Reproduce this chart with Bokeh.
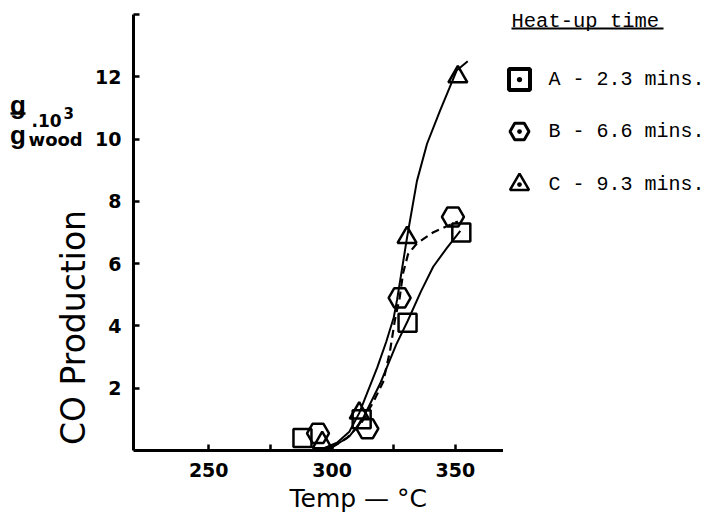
import math
from bokeh.plotting import figure
from bokeh.models import FixedTicker, Title
from bokeh.layouts import row
from bokeh.core.properties import value
from bokeh.embed import file_html
from bokeh.resources import INLINE

# ---- data ----
temp_a = [288.0, 312.0, 330.6, 352.4]
co_a = [0.40, 1.00, 4.10, 7.00]
temp_b = [294.3, 314.3, 327.4, 349.0]
co_b = [0.55, 0.70, 4.90, 7.50]
temp_c = [296.0, 311.0, 330.4, 351.0]
co_c = [0.25, 1.20, 6.84, 12.00]

curve_a_t = [296, 302, 307, 312, 319.5, 326, 330.6, 336, 341, 346.5, 352]
curve_a_v = [0.05, 0.2, 0.45, 0.95, 2.15, 3.4, 4.15, 5.1, 5.9, 6.5, 7.05]
curve_b_t = [300, 306, 312, 317, 320.7, 323.5, 325.5, 327.4, 328.8, 330.8, 334.4, 340.9, 346.5, 351]
curve_b_v = [0.1, 0.4, 0.9, 1.6, 2.2, 3.2, 4.2, 4.9, 5.7, 6.3, 6.65, 7.0, 7.2, 7.35]
curve_c_t = [296, 302, 307, 311, 313, 318.3, 322, 325, 326.4, 330.4, 334.4, 338.5, 343.7, 350.5, 355]
curve_c_v = [0.05, 0.25, 0.6, 1.2, 1.6, 2.66, 3.5, 4.27, 4.86, 6.84, 8.65, 9.85, 10.9, 12.2, 12.5]

x_ticks = [250, 275, 300, 325, 350]
x_tick_labels = {250: "250", 275: "", 300: "300", 325: "", 350: "350"}
y_ticks = [2, 4, 6, 8, 10, 12, 14]
y_tick_labels = {2: "2", 4: "4", 6: "6", 8: "8", 10: "10", 12: "12", 14: ""}

x_title = "Temp — °C"
y_title = "CO Production"
legend_title = "Heat-up time"
legend_labels = ["A - 2.3 mins.", "B - 6.6 mins.", "C - 9.3 mins."]
legend_markers = ["square_dot", "hex_dot", "triangle_dot"]

X0, X1 = 219.5, 369.5
Y0, Y_AXIS_TOP = 0.0, 14.0

H = 519              # common height
WL = 92              # left text panel
FL_IMG, FR_IMG = 132, 503
AXTOP_IMG, FB_IMG = 14, 450
BL = FL_IMG - WL     # left border of the main figure
FW = FR_IMG - FL_IMG
WQ = 208             # legend panel
# frame spans image rows 0..FB_IMG; the y axis itself stops at 14
Y1 = Y_AXIS_TOP * FB_IMG / (FB_IMG - AXTOP_IMG)

# ---- main chart ----
p = figure(width=BL + FW, height=H, x_range=(X0, X1), y_range=(Y0, Y1),
           output_backend="svg", toolbar_location=None,
           min_border_left=BL, min_border_right=0, min_border_top=0,
           min_border_bottom=H - FB_IMG)
p.outline_line_color = None
p.grid.visible = False

for ax in (p.xaxis[0], p.yaxis[0]):
    ax.axis_line_width = 3
    ax.axis_line_color = "black"
    ax.major_tick_line_width = 2.5
    ax.major_tick_in = 6
    ax.major_tick_out = 0
    ax.minor_tick_line_color = None
    ax.major_label_text_font = "DejaVu Sans"
    ax.major_label_text_font_style = "bold"
    ax.major_label_text_font_size = "19px"
    ax.major_label_text_color = "black"

p.xaxis.ticker = FixedTicker(ticks=x_ticks)
p.xaxis.major_label_overrides = x_tick_labels
p.xaxis.major_label_standoff = 12
p.yaxis.ticker = FixedTicker(ticks=y_ticks)
p.yaxis.major_label_overrides = y_tick_labels
p.yaxis.major_label_standoff = 12
p.yaxis.bounds = (Y0, Y_AXIS_TOP)

p.add_layout(Title(text=x_title, align="left", offset=156, text_font="DejaVu Sans",
                   text_font_size="25px", text_font_style="normal", text_color="black",
                   standoff=4), "below")

# curves
p.line(curve_a_t, curve_a_v, line_color="black", line_width=2)
p.line(curve_c_t, curve_c_v, line_color="black", line_width=2)
p.line(curve_b_t, curve_b_v, line_color="black", line_width=2.2, line_dash="8 5")

# markers
p.scatter(temp_a, co_a, marker="square", size=18, fill_color=None, line_color="black", line_width=2.5)
p.scatter(temp_b, co_b, marker="hex", size=22, fill_color=None, line_color="black", line_width=2.5)
p.scatter(temp_c, co_c, marker="triangle", size=19, fill_color=None, line_color="black", line_width=2.5)

# ---- left panel: axis title and units ----
L = figure(width=WL, height=H, x_range=(0, WL), y_range=(H - FB_IMG, H),
           output_backend="svg", toolbar_location=None, min_border=0)
L.axis.visible = False
L.grid.visible = False
L.outline_line_color = None

def ly(py):
    return H - py

def ltext(x, py, t, size, bold=False, align="left", baseline="alphabetic", angle=0.0,
          font="DejaVu Sans"):
    L.text([x], [ly(py)], text=[t], text_font=value(font), text_font_size=size,
           text_font_style="bold" if bold else "normal", text_align=align,
           text_baseline=baseline, angle=angle, text_color="black")

ltext(73, 327, y_title, "33px", align="center", baseline="middle", angle=math.pi / 2)
ltext(17.5, 104, "g", "26px", bold=True, align="center", font="Liberation Sans")
L.segment(x0=[10], y0=[ly(113)], x1=[25], y1=[ly(113)], line_color="black", line_width=2.5)
ltext(17.5, 134, "g", "26px", bold=True, align="center", font="Liberation Sans")
ltext(28, 139, "wood", "18px", bold=True)
ltext(31, 120, ".10", "17px", bold=True)
ltext(63, 112, "3", "15px", bold=True)

# ---- legend panel ----
q = figure(width=WQ, height=H, x_range=(0, WQ), y_range=(H - FB_IMG, H),
           output_backend="svg", toolbar_location=None, min_border=0)
q.axis.visible = False
q.grid.visible = False
q.outline_line_color = None

def qx(px):
    return px - FR_IMG
def qy(py):
    return H - py

q.text([qx(511)], [qy(21)], text=[legend_title], text_font=value("Liberation Mono"),
       text_font_size="20.5px", text_baseline="alphabetic", text_color="black")
q.segment(x0=[qx(511)], y0=[qy(28)], x1=[qx(663)], y1=[qy(28)], line_color="black", line_width=2)

leg_y = [qy(79), qy(131), qy(184)]
leg_sizes = [21, 19, 19]
leg_widths = [4, 3, 2.5]
for m, yy, s, w in zip(legend_markers, leg_y, leg_sizes, leg_widths):
    q.scatter([qx(519)], [yy], marker=m, size=s, fill_color=None, line_color="black", line_width=w)
q.text([qx(548)] * 3, leg_y, text=legend_labels, text_font=value("Liberation Mono"),
       text_font_size="20px", text_baseline="middle", text_color="black")

layout = row(L, p, q)
open("out.html", "w").write(file_html(layout, INLINE))
